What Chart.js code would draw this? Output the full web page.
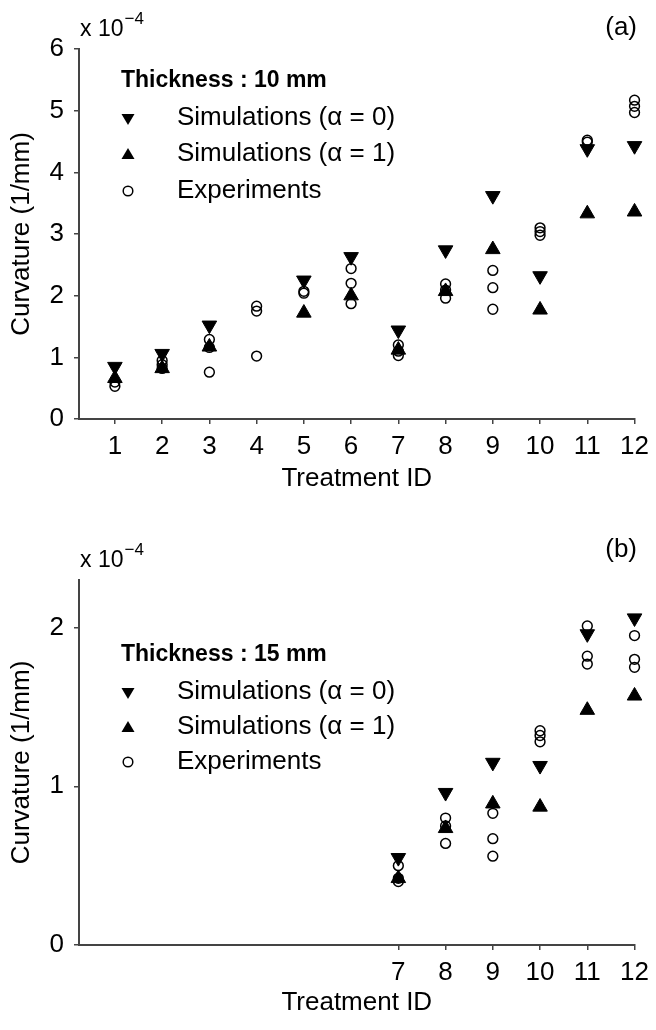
<!DOCTYPE html>
<html>
<head>
<meta charset="utf-8">
<script src="https://cdn.jsdelivr.net/npm/chart.js@4.4.1/dist/chart.umd.min.js"></script>
<style>
  body { margin: 0; background: #fff; width: 656px; height: 1030px; overflow: hidden; }
  canvas { position: absolute; left: 0; }
  #chartA { top: 0; }
  #chartB { top: 500px; }
</style>
</head>
<body>
<canvas id="chartA" width="656" height="500"></canvas>
<canvas id="chartB" width="656" height="530"></canvas>
<script>
// values in units of 1e-4 1/mm
const treatmentsA = [1, 2, 3, 4, 5, 6, 7, 8, 9, 10, 11, 12];
const simAlpha0A = [0.85, 1.06, 1.52, null, 2.25, 2.63, 1.44, 2.74, 3.62, 2.32, 4.38, 4.43];
const simAlpha1A = [0.66, 0.82, 1.17, null, 1.72, 2.0, 1.12, 2.07, 2.75, 1.77, 3.33, 3.36];
const experimentsA = [
  [0.6, 0.53], [0.95, 0.88, 0.82], [1.29, 1.16, 0.76], [1.83, 1.75, 1.02],
  [2.07, 2.04], [2.44, 2.2, 1.87], [1.2, 1.1, 1.03], [2.19, 2.09, 1.96],
  [2.41, 2.13, 1.78], [3.1, 3.04, 2.98], [4.52, 4.49], [5.17, 5.07, 4.97]
];
const yTicksA = [0, 1, 2, 3, 4, 5, 6];

const treatmentsB = [7, 8, 9, 10, 11, 12];
const simAlpha0B = [0.55, 0.96, 1.15, 1.13, 1.96, 2.06];
const simAlpha1B = [0.42, 0.735, 0.89, 0.87, 1.48, 1.57];
const experimentsB = [
  [0.5, 0.42, 0.4], [0.8, 0.75, 0.64], [0.83, 0.67, 0.56],
  [1.35, 1.32, 1.28], [2.01, 1.82, 1.77], [1.95, 1.8, 1.75]
];
const yTicksB = [0, 1, 2];

const legendLabels = ['Simulations (\u03b1 = 0)', 'Simulations (\u03b1 = 1)', 'Experiments'];

const FONT = '"Liberation Sans", Arial, sans-serif';
const SIZE = 26;
const AXIS = '#444';

function toPoints(xs, ys) {
  const pts = [];
  xs.forEach((x, i) => { if (ys[i] !== null) pts.push({ x: x, y: ys[i] }); });
  return pts;
}
function toExpPoints(xs, groups) {
  const pts = [];
  xs.forEach((x, i) => groups[i].forEach(v => pts.push({ x: x, y: v })));
  return pts;
}

function drawMarker(ctx, kind, x, y) {
  ctx.beginPath();
  if (kind === 'down') {
    ctx.moveTo(x - 6.5, y - 4); ctx.lineTo(x + 6.5, y - 4); ctx.lineTo(x, y + 7);
    ctx.closePath(); ctx.fill();
  } else if (kind === 'up') {
    ctx.moveTo(x - 6.5, y + 5); ctx.lineTo(x + 6.5, y + 5); ctx.lineTo(x, y - 6);
    ctx.closePath(); ctx.fill();
  } else {
    ctx.lineWidth = 1.5;
    ctx.arc(x, y, 4.8, 0, Math.PI * 2); ctx.stroke();
  }
}

const overlay = {
  id: 'overlay',
  afterDraw(chart, args, o) {
    const ctx = chart.ctx;
    ctx.save();
    ctx.fillStyle = '#000';
    ctx.strokeStyle = '#000';
    ctx.textBaseline = 'middle';
    ctx.textAlign = 'left';
    // x 10^-4
    ctx.font = '23px ' + FONT;
    ctx.fillText('x 10', 80, o.expY);
    const w = ctx.measureText('x 10').width;
    ctx.font = '17px ' + FONT;
    ctx.fillText('\u22124', 80 + w + 1, o.expY - 11);
    // panel letter
    ctx.font = SIZE + 'px ' + FONT;
    ctx.textAlign = 'right';
    ctx.fillText(o.panel, 637, o.panelY);
    // legend
    ctx.textAlign = 'left';
    ctx.font = 'bold 23px ' + FONT;
    ctx.fillText(o.title, 121, o.titleY);
    ctx.font = SIZE + 'px ' + FONT;
    ['down', 'up', 'circle'].forEach((k, i) => {
      drawMarker(ctx, k, 128, o.rows[i]);
      ctx.fillText(legendLabels[i], 177, o.rows[i]);
    });
    ctx.restore();
  }
};

function makeChart(id, xs, s0, s1, exps, yTicks, yMax, xTicks, cfg) {
  return new Chart(document.getElementById(id), {
    type: 'scatter',
    data: {
      datasets: [
        {
          label: legendLabels[2],
          data: toExpPoints(xs, exps),
          pointStyle: 'circle',
          pointRadius: 4.9,
          borderWidth: 1.5,
          borderColor: '#000',
          backgroundColor: 'rgba(0,0,0,0)',
          clip: false
        },
        {
          label: legendLabels[0],
          data: toPoints(xs, s0),
          pointStyle: 'triangle',
          rotation: 180,
          pointRadius: 8.4,
          borderWidth: 1,
          borderColor: '#000',
          backgroundColor: '#000',
          clip: false
        },
        {
          label: legendLabels[1],
          data: toPoints(xs, s1),
          pointStyle: 'triangle',
          pointRadius: 8.4,
          borderWidth: 1,
          borderColor: '#000',
          backgroundColor: '#000',
          clip: false
        }
      ]
    },
    options: {
      responsive: false,
      animation: false,
      events: [],
      layout: { padding: { top: cfg.padTop, right: 19, left: 0, bottom: 0 } },
      plugins: {
        legend: { display: false },
        tooltip: { enabled: false },
        overlay: cfg.overlay
      },
      scales: {
        x: {
          type: 'linear',
          min: 0.24,
          max: 12,
          afterFit: s => { s.height = cfg.xHeight; },
          afterBuildTicks: s => { s.ticks = xTicks.map(v => ({ value: v })); },
          ticks: { color: '#000', font: { family: FONT, size: SIZE }, padding: 7, autoSkip: false, maxRotation: 0 },
          grid: { display: true, drawOnChartArea: false, drawTicks: true, tickLength: 5, color: AXIS, lineWidth: 1.5 },
          border: { display: true, color: AXIS, width: 2 },
          title: { display: true, text: 'Treatment ID', color: '#000', font: { family: FONT, size: SIZE }, padding: { top: 0, bottom: cfg.xTitlePad } }
        },
        y: {
          min: 0,
          max: yMax,
          afterFit: s => { s.width = 79; },
          afterBuildTicks: s => { s.ticks = yTicks.map(v => ({ value: v })); },
          ticks: { color: '#000', font: { family: FONT, size: SIZE }, padding: 10 },
          grid: { display: true, drawOnChartArea: false, drawTicks: true, tickLength: 5, color: AXIS, lineWidth: 1.5 },
          border: { display: true, color: AXIS, width: 2 },
          title: { display: true, text: 'Curvature (1/mm)', color: '#000', font: { family: FONT, size: SIZE }, padding: { top: 6, bottom: 0 } }
        }
      }
    },
    plugins: [overlay]
  });
}

makeChart('chartA', treatmentsA, simAlpha0A, simAlpha1A, experimentsA, yTicksA, 6, treatmentsA, {
  padTop: 49, xHeight: 81, xTitlePad: 6,
  overlay: { panel: '(a)', panelY: 28, expY: 30, title: 'Thickness : 10 mm', titleY: 81, rows: [118, 154, 191] }
});

makeChart('chartB', treatmentsB, simAlpha0B, simAlpha1B, experimentsB, yTicksB, 2.3, treatmentsB, {
  padTop: 80, xHeight: 85, xTitlePad: 12,
  overlay: { panel: '(b)', panelY: 50, expY: 61, title: 'Thickness : 15 mm', titleY: 155, rows: [192, 227, 262] }
});
</script>
</body>
</html>
